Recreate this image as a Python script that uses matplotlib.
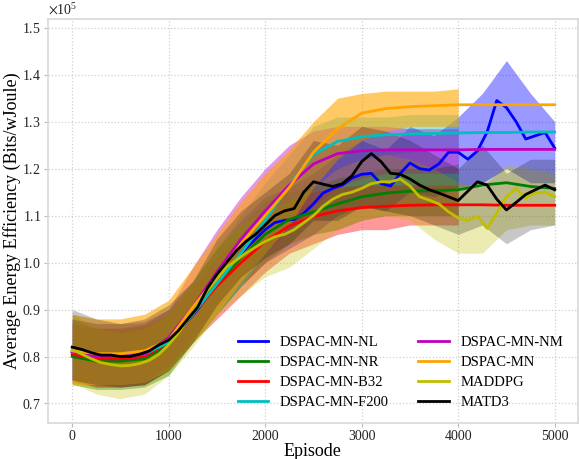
import numpy as np
import matplotlib
matplotlib.use("Agg")
import matplotlib.pyplot as plt

plt.rcParams['font.family'] = ['Liberation Serif', 'DejaVu Serif']
plt.rcParams['mathtext.fontset'] = 'stix'

# episode grids
ep_fine = np.arange(0, 5001, 100)
ep_coarse = np.arange(0, 5001, 250)
ep_band_full = np.arange(0, 5001, 250)
ep_band_short = np.arange(0, 4001, 250)

names = ['DSPAC-MN-NL', 'DSPAC-MN-NR', 'DSPAC-MN-B32', 'DSPAC-MN-F200',
         'DSPAC-MN-NM', 'DSPAC-MN', 'MADDPG', 'MATD3']
colors = ['b', 'g', 'r', 'c', 'm', 'orange', 'y', 'k']
band_alpha = [0.4, 0.4, 0.4, 0.4, 0.4, 0.6, 0.3, 0.22]

# smoothed curves (x1e5 Bits/wJoule)
nl_smooth = [.810, .803, .797, .795, .794, .794, .795, .798, .805, .815,
             .830, .853, .877, .900, .928, .955, .980, 1.005, 1.030, 1.050,
             1.070, 1.085, 1.090, 1.092, 1.105, 1.125, 1.148, 1.158, 1.165, 1.180,
             1.188, 1.190, 1.168, 1.163, 1.190, 1.212, 1.200, 1.197, 1.210, 1.235,
             1.235, 1.220, 1.238, 1.278, 1.345, 1.330, 1.300, 1.263, 1.270, 1.277,
             1.244]
nr_smooth = [.800, .790, .790, .795, .825, .895, .955, 1.010, 1.060, 1.092, 1.108,
             1.125, 1.140, 1.148, 1.152, 1.153, 1.155, 1.165, 1.170, 1.162, 1.158]
b32_smooth = [.805, .795, .795, .800, .830, .890, .950, 1.000, 1.045, 1.078, 1.098,
              1.110, 1.117, 1.120, 1.122, 1.123, 1.123, 1.123, 1.122, 1.122, 1.122]
f200_smooth = [.810, .800, .800, .805, .830, .890, .955, 1.020, 1.090, 1.165, 1.230,
               1.258, 1.268, 1.272, 1.274, 1.275, 1.276, 1.277, 1.277, 1.278, 1.278]
nm_smooth = [.810, .800, .800, .805, .840, .905, .980, 1.050, 1.110, 1.165, 1.210,
             1.232, 1.238, 1.240, 1.240, 1.240, 1.240, 1.241, 1.241, 1.241, 1.241]
mn_smooth = [.812, .806, .806, .812, .835, .905, .970, 1.040, 1.100, 1.160, 1.235,
             1.285, 1.318, 1.328, 1.332, 1.334, 1.336, 1.336, 1.336, 1.336, 1.336]
maddpg_smooth = [.815, .805, .795, .787, .783, .780, .781, .785, .792, .805,
                 .825, .850, .880, .910, .940, .965, .990, 1.005, 1.020, 1.033,
                 1.045, 1.055, 1.060, 1.070, 1.085, 1.100, 1.120, 1.135, 1.145, 1.150,
                 1.158, 1.168, 1.172, 1.172, 1.178, 1.163, 1.140, 1.133, 1.125, 1.108,
                 1.095, 1.090, 1.098, 1.073, 1.105, 1.140, 1.158, 1.137, 1.148, 1.150,
                 1.140]
matd3_smooth = [.820, .815, .808, .803, .803, .800, .800, .805, .812, .825,
                .835, .855, .880, .905, .945, .975, 1.000, 1.025, 1.045, 1.060,
                1.080, 1.100, 1.110, 1.115, 1.150, 1.172, 1.167, 1.162, 1.168, 1.185,
                1.215, 1.232, 1.215, 1.190, 1.188, 1.178, 1.165, 1.155, 1.148, 1.140,
                1.132, 1.152, 1.172, 1.165, 1.135, 1.112, 1.128, 1.145, 1.155, 1.165,
                1.155]

# raw reward spread: lower / upper envelopes
nl_lo = [.75, .735, .735, .74, .77, .83, .89, .95, 1.00, 1.03, 1.06,
         1.10, 1.12, 1.11, 1.15, 1.14, 1.16, 1.17, 1.20, 1.17, 1.17]
nl_hi = [.88, .86, .86, .87, .90, .96, 1.03, 1.09, 1.14, 1.16, 1.19,
         1.23, 1.26, 1.24, 1.29, 1.27, 1.31, 1.36, 1.43, 1.36, 1.30]
nr_lo = [.74, .73, .73, .735, .76, .83, .89, .95, 1.00, 1.04, 1.06, 1.07, 1.09, 1.10, 1.10, 1.10, 1.10]
nr_hi = [.87, .86, .86, .865, .89, .96, 1.03, 1.08, 1.13, 1.15, 1.16, 1.18, 1.19, 1.20, 1.20, 1.20, 1.21]
b32_lo = [.745, .735, .735, .74, .77, .83, .88, .93, .98, 1.02, 1.04, 1.06, 1.07, 1.07, 1.08, 1.08, 1.08]
b32_hi = [.87, .86, .86, .865, .89, .95, 1.01, 1.06, 1.10, 1.13, 1.15, 1.16, 1.165, 1.165, 1.165, 1.165, 1.165]
f200_lo = [.75, .74, .74, .745, .77, .83, .89, .95, 1.02, 1.09, 1.16, 1.20, 1.22, 1.23, 1.235, 1.24, 1.24]
f200_hi = [.88, .87, .87, .87, .90, .96, 1.03, 1.10, 1.17, 1.23, 1.29, 1.31, 1.31, 1.31, 1.315, 1.315, 1.315]
nm_lo = [.75, .74, .74, .745, .78, .84, .90, .96, 1.02, 1.07, 1.12, 1.16, 1.18, 1.19, 1.19, 1.19, 1.19]
nm_hi = [.88, .87, .87, .875, .90, .99, 1.07, 1.14, 1.20, 1.25, 1.28, 1.29, 1.29, 1.29, 1.285, 1.285, 1.285]
mn_lo = [.74, .74, .74, .745, .77, .83, .89, .96, 1.02, 1.08, 1.16, 1.22, 1.26, 1.28, 1.29, 1.29, 1.29]
mn_hi = [.89, .88, .88, .89, .92, .99, 1.06, 1.13, 1.19, 1.24, 1.30, 1.35, 1.36, 1.365, 1.365, 1.365, 1.37]
maddpg_lo = [.745, .72, .71, .72, .76, .82, .89, .93, .97, .99, 1.03,
             1.07, 1.09, 1.10, 1.09, 1.05, 1.02, 1.02, 1.07, 1.08, 1.08]
maddpg_hi = [.89, .86, .85, .86, .89, .96, 1.04, 1.08, 1.11, 1.13, 1.16,
             1.20, 1.22, 1.23, 1.22, 1.20, 1.17, 1.16, 1.21, 1.20, 1.19]
matd3_lo = [.75, .74, .735, .74, .77, .83, .91, .97, 1.01, 1.04, 1.09,
            1.09, 1.12, 1.11, 1.10, 1.08, 1.06, 1.08, 1.04, 1.07, 1.08]
matd3_hi = [.90, .88, .87, .88, .91, .96, 1.05, 1.11, 1.15, 1.19, 1.26,
            1.25, 1.29, 1.28, 1.26, 1.23, 1.20, 1.25, 1.19, 1.22, 1.22]

series = [
    (nl_smooth, ep_fine, nl_lo, nl_hi, ep_band_full),
    (nr_smooth, ep_coarse, nr_lo, nr_hi, ep_band_short),
    (b32_smooth, ep_coarse, b32_lo, b32_hi, ep_band_short),
    (f200_smooth, ep_coarse, f200_lo, f200_hi, ep_band_short),
    (nm_smooth, ep_coarse, nm_lo, nm_hi, ep_band_short),
    (mn_smooth, ep_coarse, mn_lo, mn_hi, ep_band_short),
    (maddpg_smooth, ep_fine, maddpg_lo, maddpg_hi, ep_band_full),
    (matd3_smooth, ep_fine, matd3_lo, matd3_hi, ep_band_full),
]

fig = plt.figure(figsize=(5.79, 4.59), dpi=100)
ax = fig.add_axes([0.083, 0.078, 0.915, 0.881])

for (smooth, ep, lo, hi, ep_b), name, col, a in zip(series, names, colors, band_alpha):
    ax.fill_between(ep_b, np.array(lo) * 1e5, np.array(hi) * 1e5,
                    color=col, alpha=a, linewidth=0)
    ax.plot(ep, np.array(smooth) * 1e5, color=col, lw=2, label=name)

ax.set_xlim(-250, 5240)
ax.set_ylim(0.658e5, 1.519e5)
ax.set_xticks([0, 1000, 2000, 3000, 4000, 5000])
ax.set_yticks(np.arange(0.7, 1.51, 0.1) * 1e5)
ax.ticklabel_format(axis='y', style='sci', scilimits=(5, 5), useMathText=True)
ax.yaxis.get_offset_text().set_fontsize(10)

ax.grid(True, linestyle=':', color='#d0d0d0', linewidth=0.9)
ax.set_axisbelow(True)
for sp in ax.spines.values():
    sp.set_color('#d8d8d8')
    sp.set_linewidth(1.2)
ax.tick_params(labelsize=10, length=3, pad=2, color='#bbbbbb', labelcolor='#222222')

ax.set_xlabel('Episode', fontsize=13, labelpad=0)
ax.set_ylabel('Average Energy Efficiency (Bits/wJoule)', fontsize=13, labelpad=1)

ax.legend(loc='lower right', ncol=2, frameon=False, fontsize=10.5,
          handlelength=2.1, handletextpad=0.8, columnspacing=2.0,
          labelspacing=0.45, borderaxespad=0.6)

fig.savefig('out.png', dpi=100)
